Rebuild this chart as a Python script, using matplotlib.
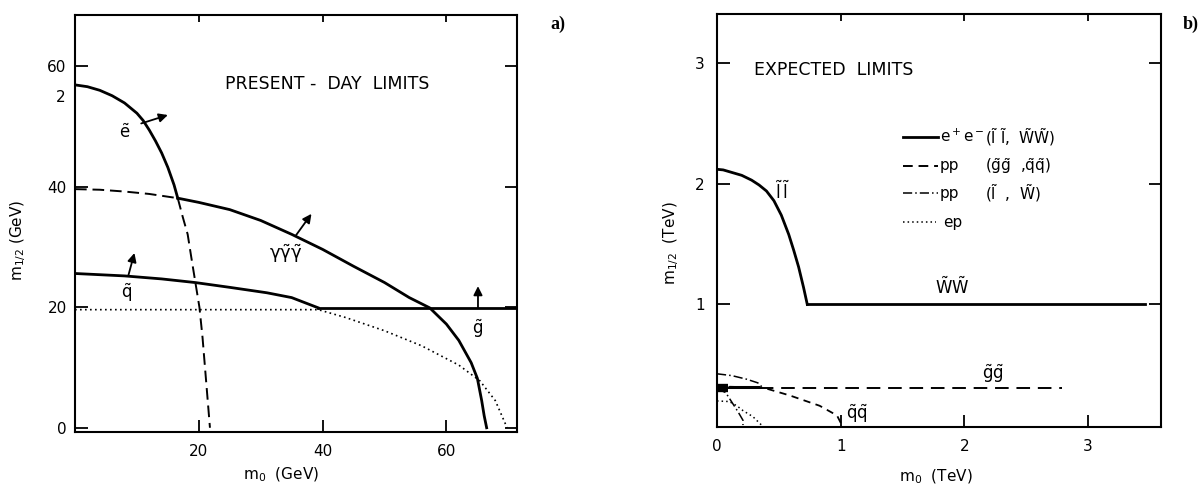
import matplotlib
matplotlib.use('Agg')
import matplotlib.pyplot as plt

plt.rcParams['font.family'] = ['DejaVu Sans']
plt.rcParams['mathtext.default'] = 'regular'

# ---------------- PANEL a) PRESENT-DAY LIMITS (GeV) ----------------
# selectron boundary (solid part, then dashed continuation below the photino line)
E_X = [0, 2, 4, 6, 8, 10, 11, 12, 13, 14, 15, 16, 16.6]
E_Y = [56.9, 56.6, 56.0, 55.1, 53.9, 52.2, 51.0, 49.4, 47.6, 45.6, 43.2, 40.3, 38.1]
E_DASH_X = [16.6, 17.4, 18.2, 18.8, 19.4, 20.1, 20.6, 21.0, 21.4, 21.8]
E_DASH_Y = [38.1, 35.0, 32.1, 28.2, 24.4, 20.0, 15.0, 10.0, 5.0, 0.0]
# gamma gamma~ gamma~ boundary (dashed start, then solid)
G3_DASH_X = [0, 4, 8, 12, 16.6]
G3_DASH_Y = [39.6, 39.5, 39.2, 38.8, 38.1]
G3_X = [16.6, 20, 25, 30, 35, 40, 45, 50, 54, 57.3, 60, 62, 64, 65, 65.7, 66.1, 66.5]
G3_Y = [38.1, 37.4, 36.2, 34.4, 32.1, 29.6, 26.8, 24.1, 21.6, 19.9, 17.2, 14.5, 10.8, 8.2, 4.5, 2.0, 0.0]
# squark and gluino
Q_X = [0, 8, 14, 19.4, 25, 31, 35, 39.3]
Q_Y = [25.6, 25.2, 24.7, 24.1, 23.3, 22.4, 21.6, 19.9]
GL_X = [39.3, 71.4]
GL_Y = [19.9, 19.9]
# dotted boundary
DOT_X = [0, 20, 39.3, 43.7, 50, 56, 62, 65.4, 67.9, 69.8]
DOT_Y = [19.6, 19.6, 19.6, 18.3, 16.1, 13.6, 10.4, 7.8, 4.5, 0.0]

# ---------------- PANEL b) EXPECTED LIMITS (TeV) ----------------
LL_X = [0, 0.05, 0.10, 0.20, 0.28, 0.34, 0.40, 0.46, 0.52, 0.58, 0.62, 0.66, 0.70, 0.73]
LL_Y = [2.12, 2.115, 2.10, 2.07, 2.03, 1.99, 1.94, 1.86, 1.74, 1.58, 1.45, 1.31, 1.14, 1.0]
WW_X = [0.73, 3.46]
WW_Y = [1.0, 1.0]
GG_X = [0, 2.79]
GG_Y = [0.31, 0.31]
QQ_X = [0.0, 0.2, 0.375, 0.59, 0.83, 0.97, 1.01]
QQ_Y = [0.32, 0.315, 0.31, 0.245, 0.16, 0.08, 0.0]
DD1_X = [0, 0.12, 0.24, 0.33, 0.37]
DD1_Y = [0.425, 0.41, 0.38, 0.35, 0.31]
DD2_X = [0.0, 0.07, 0.12, 0.17, 0.21, 0.21]
DD2_Y = [0.30, 0.27, 0.19, 0.11, 0.04, 0.0]
EP_X = [0, 0.10, 0.16, 0.21, 0.29, 0.33, 0.36]
EP_Y = [0.20, 0.195, 0.16, 0.12, 0.07, 0.03, 0.0]
BLOB_X = [0.0, 0.09]
BLOB_Y = [0.31, 0.31]
BLOB2_X = [0.09, 0.35]
BLOB2_Y = [0.315, 0.315]

fig = plt.figure(figsize=(12.02, 4.88), dpi=100)
ax1 = fig.add_axes([0.0624, 0.1148, 0.3677, 0.8545])
ax2 = fig.add_axes([0.5965, 0.124, 0.3694, 0.848])

DASH = (0, (6, 3))
DOTS = (0, (1, 2))
ARROW = dict(arrowstyle='-|>', color='k', lw=1.3, mutation_scale=13, shrinkA=0, shrinkB=0)

# ---- panel a)
ax1.plot(E_X, E_Y, color='k', lw=2.0)
ax1.plot(E_DASH_X, E_DASH_Y, color='k', lw=1.4, ls=DASH)
ax1.plot(G3_DASH_X, G3_DASH_Y, color='k', lw=1.4, ls=DASH)
ax1.plot(G3_X, G3_Y, color='k', lw=2.0)
ax1.plot(Q_X, Q_Y, color='k', lw=2.0)
ax1.plot(GL_X, GL_Y, color='k', lw=2.0)
ax1.plot(DOT_X, DOT_Y, color='k', lw=1.2, ls=DOTS)

ax1.annotate('', xy=(15.0, 51.9), xytext=(10.7, 50.5), arrowprops=ARROW)
ax1.annotate('', xy=(38.2, 35.5), xytext=(35.6, 31.8), arrowprops=ARROW)
ax1.annotate('', xy=(9.6, 29.0), xytext=(8.6, 25.2), arrowprops=ARROW)
ax1.annotate('', xy=(65.1, 23.5), xytext=(65.1, 19.9), arrowprops=ARROW)

ax1.text(8.0, 48.9, r'$\tilde{e}$', fontsize=12, ha='center', va='center')
ax1.text(34.0, 28.8, r'$\gamma\tilde{\gamma}\tilde{\gamma}$', fontsize=13, ha='center', va='center')
ax1.text(8.3, 22.4, r'$\tilde{q}$', fontsize=12, ha='center', va='center')
ax1.text(65.1, 16.4, r'$\tilde{g}$', fontsize=12, ha='center', va='center')
ax1.text(0.34, 0.835, 'PRESENT -  DAY  LIMITS', transform=ax1.transAxes, fontsize=12.5, va='center')
ax1.text(-1.6, 54.8, '2', fontsize=11, ha='right', va='center', clip_on=False)

ax1.set_xlim(0, 71.4)
ax1.set_ylim(-0.7, 68.5)
ax1.set_xticks([20, 40, 60])
ax1.set_yticks([0, 20, 40, 60])
ax1.tick_params(direction='in', length=9, width=1.3, labelsize=11, top=True, right=True)
ax1.tick_params(axis='y', pad=6)
ax1.tick_params(axis='x', pad=9)
ax1.text(0.466, -0.103, r'm$_0$  (GeV)', transform=ax1.transAxes, fontsize=11, ha='center', va='center')
ax1.text(-0.128, 0.46, r'm$_{1/2}$ (GeV)', transform=ax1.transAxes, fontsize=11, ha='center', va='center', rotation=90)
fig.text(0.4575, 0.95, 'a)', fontsize=13, fontweight='bold', family=['Liberation Serif', 'DejaVu Serif'], va='center')

# ---- panel b)
ax2.plot(LL_X, LL_Y, color='k', lw=2.0)
ax2.plot(WW_X, WW_Y, color='k', lw=2.0)
ax2.plot(GG_X, GG_Y, color='k', lw=1.4, ls=(0, (7, 4)))
ax2.plot(QQ_X, QQ_Y, color='k', lw=1.3, ls=(0, (4, 3)))
ax2.plot(DD1_X, DD1_Y, color='k', lw=1.1, ls=(0, (6, 2, 1, 2)))
ax2.plot(DD2_X, DD2_Y, color='k', lw=1.1, ls=(0, (6, 2, 1, 2)))
ax2.plot(EP_X, EP_Y, color='k', lw=1.1, ls=DOTS)
ax2.plot(BLOB_X, BLOB_Y, color='k', lw=6, solid_capstyle='butt')
ax2.plot(BLOB2_X, BLOB2_Y, color='k', lw=2.2, solid_capstyle='butt')

ax2.text(0.53, 1.93, r'$\tilde{l}\,\tilde{l}$', fontsize=12, ha='center', va='center')
ax2.text(1.9, 1.14, r'$\tilde{W}\tilde{W}$', fontsize=12, ha='center', va='center')
ax2.text(2.23, 0.425, r'$\tilde{g}\tilde{g}$', fontsize=12, ha='center', va='center')
ax2.text(1.13, 0.09, r'$\tilde{q}\tilde{q}$', fontsize=12, ha='center', va='center')
ax2.text(0.30, 2.94, 'EXPECTED  LIMITS', fontsize=12.5, va='center')

# key drawn inside the frame
ax2.plot([1.50, 1.79], [2.39, 2.39], color='k', lw=2.0)
ax2.plot([1.50, 1.79], [2.15, 2.15], color='k', lw=1.4, ls=(0, (5, 3)))
ax2.plot([1.50, 1.79], [1.92, 1.92], color='k', lw=1.1, ls=(0, (6, 2, 1, 2)))
ax2.plot([1.50, 1.77], [1.68, 1.68], color='k', lw=1.1, ls=DOTS)
ax2.text(1.80, 2.39, r'e$^+$e$^-$', fontsize=11, va='center')
ax2.text(2.17, 2.39, r'($\tilde{l}$ $\tilde{l}$,  $\tilde{W}\tilde{W}$)', fontsize=11, va='center')
ax2.text(1.80, 2.15, 'pp', fontsize=11, va='center')
ax2.text(2.17, 2.15, r'($\tilde{g}\tilde{g}$  ,$\tilde{q}\tilde{q}$)', fontsize=11, va='center')
ax2.text(1.80, 1.92, 'pp', fontsize=11, va='center')
ax2.text(2.17, 1.92, r'($\tilde{l}$  ,  $\tilde{W}$)', fontsize=11, va='center')
ax2.text(1.83, 1.68, 'ep', fontsize=11, va='center')

ax2.set_xlim(0, 3.59)
ax2.set_ylim(-0.02, 3.41)
ax2.set_xticks([0, 1, 2, 3])
ax2.set_yticks([1, 2, 3])
ax2.tick_params(direction='in', length=9, width=1.3, labelsize=11, top=True, right=True)
ax2.tick_params(axis='y', pad=9)
ax2.tick_params(axis='x', pad=8)
ax2.text(0.493, -0.12, r'm$_0$  (TeV)', transform=ax2.transAxes, fontsize=11, ha='center', va='center')
ax2.text(-0.104, 0.446, r'm$_{1/2}$  (TeV)', transform=ax2.transAxes, fontsize=11, ha='center', va='center', rotation=90)
fig.text(0.984, 0.95, 'b)', fontsize=13, fontweight='bold', family=['Liberation Serif', 'DejaVu Serif'], va='center')

for ax in (ax1, ax2):
    for s in ax.spines.values():
        s.set_linewidth(1.5)
    for t in ax.xaxis.get_major_ticks():
        t.tick2line.set_markersize(5)

fig.savefig('out.png', dpi=100)
